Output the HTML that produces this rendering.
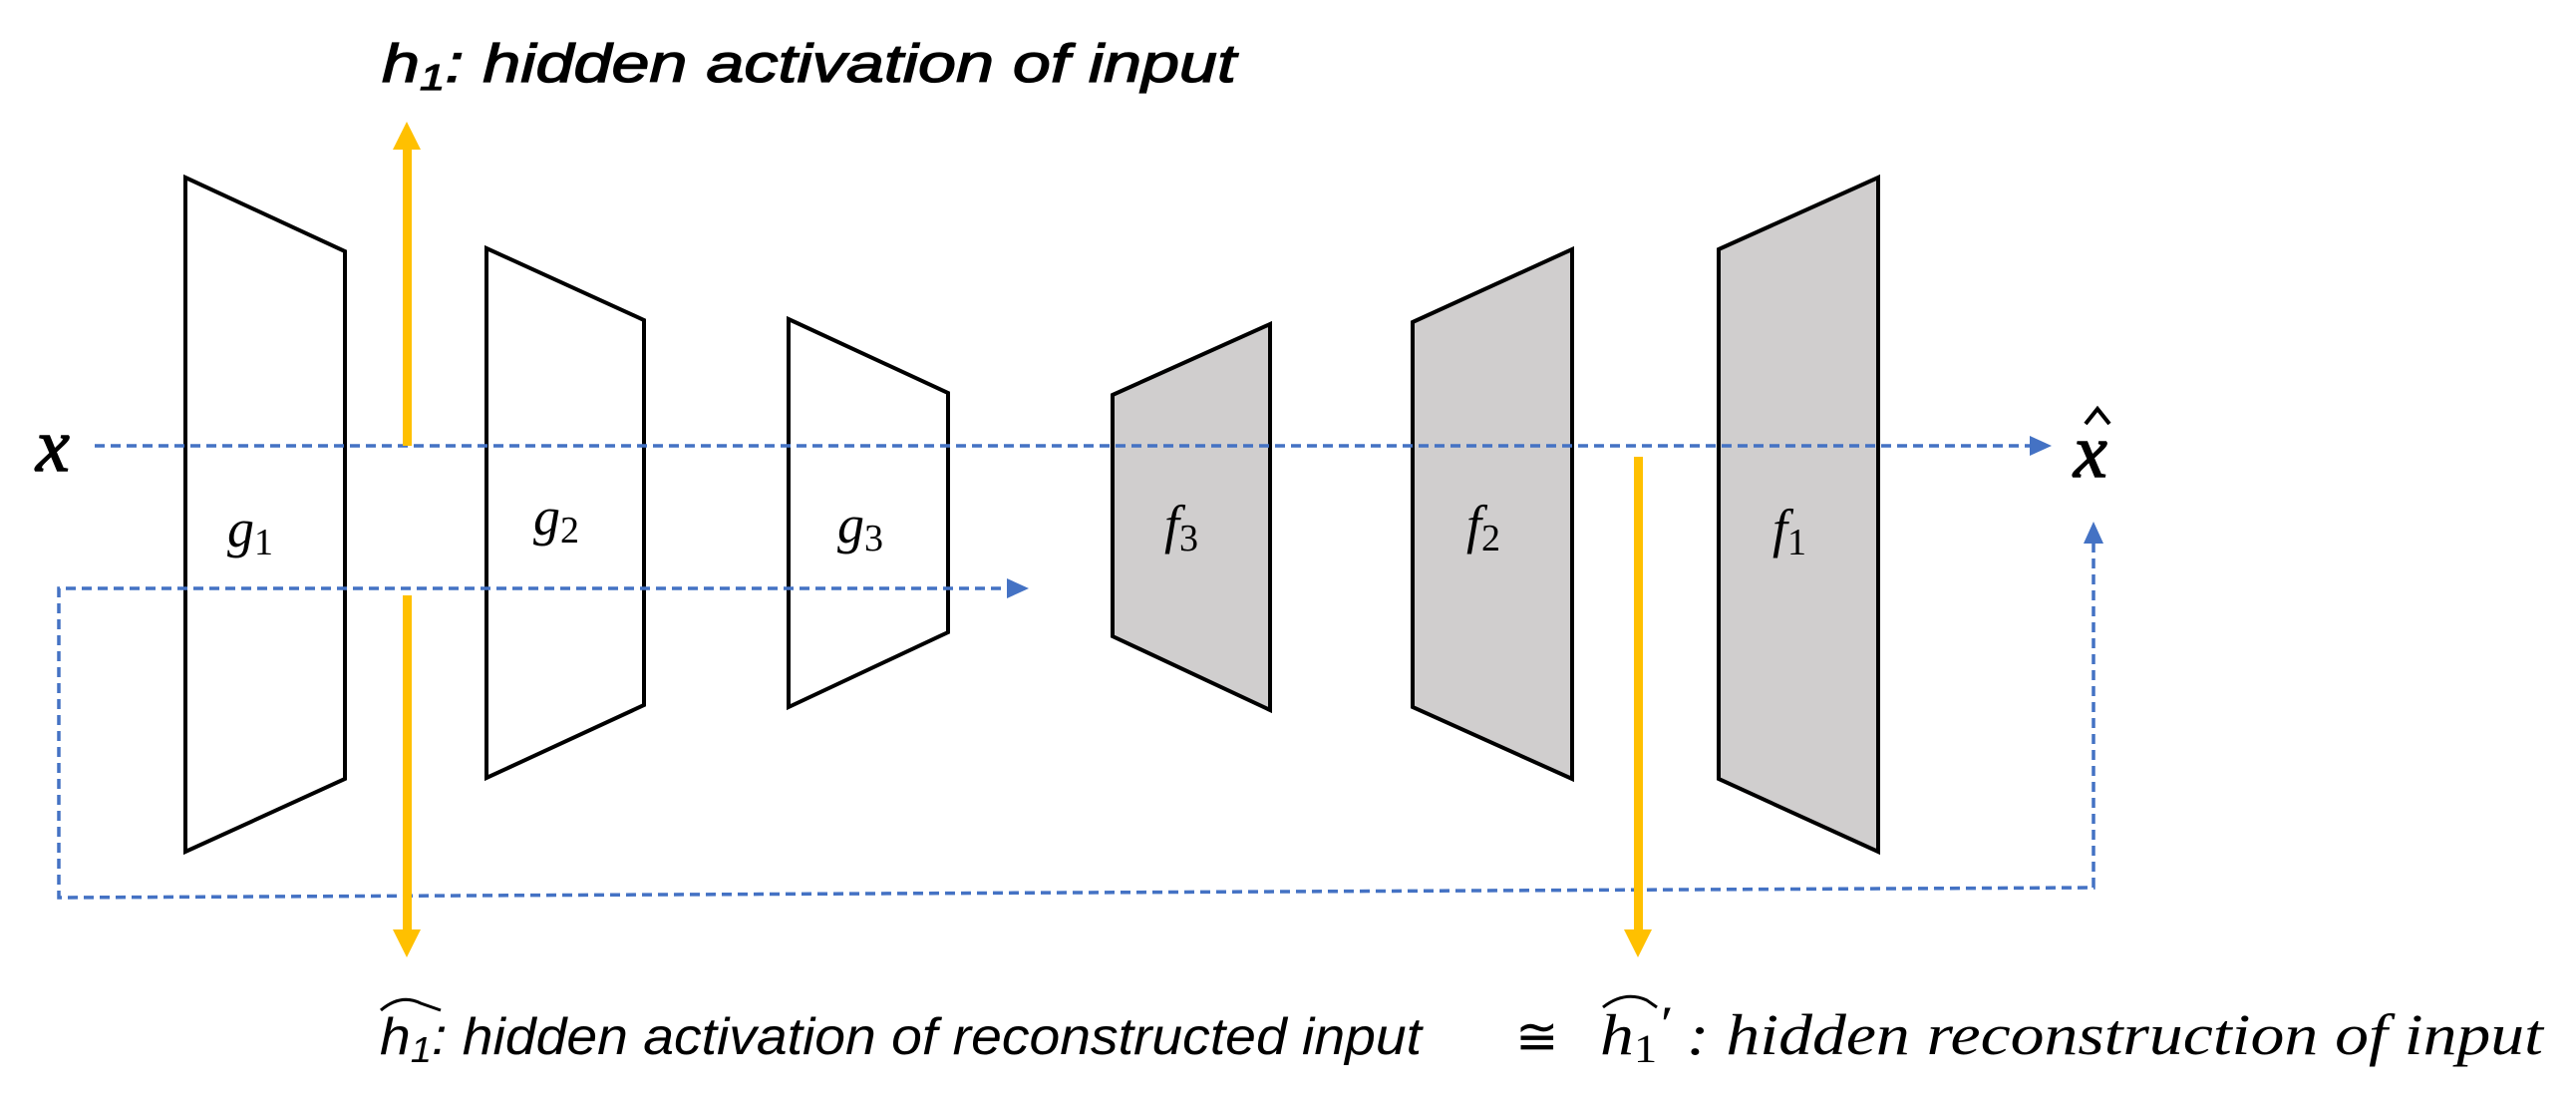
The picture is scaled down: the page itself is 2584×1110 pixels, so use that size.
<!DOCTYPE html>
<html><head><meta charset="utf-8"><style>
html,body{margin:0;padding:0;background:#fff;}
svg{display:block;}
</style></head><body>
<svg width="2584" height="1110" viewBox="0 0 2584 1110" xmlns="http://www.w3.org/2000/svg">
<g stroke="#000" stroke-width="4" stroke-linejoin="miter">
<polygon points="186,178 346,252 346,781 186,854" fill="#fff"/>
<polygon points="488,249 646,321 646,707 488,780" fill="#fff"/>
<polygon points="791,320 951,394 951,634 791,709" fill="#fff"/>
<polygon points="1116,396 1274,325 1274,712 1116,638" fill="#d0cece"/>
<polygon points="1417,323 1577,250 1577,781 1417,709" fill="#d0cece"/>
<polygon points="1724,250 1884,178 1884,854 1724,781" fill="#d0cece"/>
</g>
<g stroke="#4472c4" stroke-width="3.5" stroke-dasharray="10,6" fill="none">
<line x1="95" y1="447" x2="2040" y2="447"/>
<polyline points="1020,590 59,590 59,900 2100,890 2100,540"/>
</g>
<path d="M2036,437 L2058,447 L2036,457 z" fill="#4472c4"/>
<path d="M1010,580 L1032,590 L1010,600 z" fill="#4472c4"/>
<path d="M2090,545 L2100,523 L2110,545 z" fill="#4472c4"/>
<g fill="#ffc000">
<rect x="404" y="148" width="9" height="299"/>
<path d="M394,150 L408,122 L422,150 z"/>
<rect x="404" y="597" width="9" height="335"/>
<path d="M394,932 L408,960 L422,932 z"/>
<rect x="1639" y="458" width="9" height="474"/>
<path d="M1629,932 L1643,960 L1657,932 z"/>
</g>
<g font-family="Liberation Serif, serif" font-style="italic" fill="#000">
<text x="36" y="472" font-size="76" stroke="#000" stroke-width="1.5">x</text>
<text x="2080" y="478" font-size="76" stroke="#000" stroke-width="1.5">x</text>
<text x="228" y="548" font-size="54">g<tspan font-style="normal" font-size="38" dy="8">1</tspan></text>
<text x="535" y="536" font-size="54">g<tspan font-style="normal" font-size="38" dy="8">2</tspan></text>
<text x="840" y="544" font-size="54">g<tspan font-style="normal" font-size="38" dy="8">3</tspan></text>
<text x="1168" y="544" font-size="54">f<tspan font-style="normal" font-size="38" dy="8">3</tspan></text>
<text x="1471" y="544" font-size="54">f<tspan font-style="normal" font-size="38" dy="8">2</tspan></text>
<text x="1778" y="548" font-size="54">f<tspan font-style="normal" font-size="38" dy="8">1</tspan></text>
</g>
<path d="M2092,425 L2104,410 L2116,425" stroke="#000" stroke-width="4" fill="none"/>
<text x="383" y="82" font-family="Liberation Sans, sans-serif" font-style="italic" font-size="54" stroke="#000" stroke-width="1.2" textLength="857" lengthAdjust="spacingAndGlyphs">h<tspan font-size="36" dy="8">1</tspan><tspan dy="-8">: hidden activation of input</tspan></text>
<text x="381" y="1057" font-family="Liberation Sans, sans-serif" font-style="italic" font-size="52" textLength="1045" lengthAdjust="spacingAndGlyphs">h<tspan font-size="36" dy="8">1</tspan><tspan dy="-8">: hidden activation of reconstructed input</tspan></text>
<path d="M382,1013 Q402,996 422,1006 L442,1013" stroke="#000" stroke-width="3" fill="none"/>
<text x="1520" y="1057" font-family="DejaVu Sans, sans-serif" font-size="52">≅</text>
<text x="1605" y="1057" font-family="Liberation Serif, serif" font-style="italic" font-size="58" textLength="946" lengthAdjust="spacingAndGlyphs">h<tspan font-style="normal" font-size="40" dy="8">1</tspan><tspan dy="-22" font-size="50">′</tspan><tspan dy="14"> : hidden reconstruction of input</tspan></text>
<path d="M1608,1010 Q1630,993 1652,1003 L1662,1010" stroke="#000" stroke-width="3" fill="none"/>
</svg>
</body></html>
